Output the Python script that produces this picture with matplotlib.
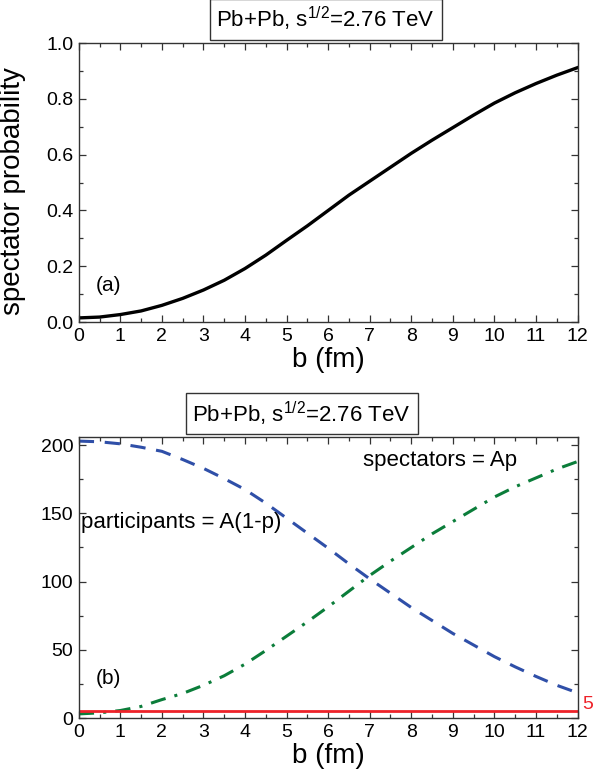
import numpy as np
import matplotlib
matplotlib.use("Agg")
import matplotlib.pyplot as plt
from matplotlib.ticker import MultipleLocator

plt.rcParams['font.family'] = ['Liberation Sans', 'DejaVu Sans']
plt.rcParams['mathtext.fontset'] = 'custom'
plt.rcParams['mathtext.rm'] = 'Liberation Sans'

# impact parameter grid (fm)
b = [0, 0.5, 1, 1.5, 2, 2.5, 3, 3.5, 4, 4.5, 5, 5.5, 6,
     6.5, 7, 7.5, 8, 8.5, 9, 9.5, 10, 10.5, 11, 11.5, 12]

# spectator probability p(b)
p_spec = [0.015, 0.018, 0.027, 0.040, 0.060, 0.085, 0.115, 0.150, 0.192,
          0.240, 0.293, 0.345, 0.400, 0.455, 0.505, 0.555, 0.605, 0.652,
          0.697, 0.742, 0.785, 0.822, 0.855, 0.885, 0.912]

# number of participants and spectators
participants = [203, 202.5, 201, 198.5, 195.5, 189.5, 183, 175.5, 167.5,
                157.5, 146.5, 135.5, 124.5, 113, 102, 91.5, 81, 71.5,
                62, 53.5, 45, 37.5, 30.5, 24, 18.5]
spectators = [3, 3.8, 5.5, 8.5, 13.5, 18, 24, 31, 39.5, 49.5, 60, 70.5,
              81.5, 93, 104.5, 115, 125, 135, 144, 153, 162, 169.5,
              176, 182.5, 188]
n_cut = 5

fig = plt.figure(figsize=(6.06, 7.78), dpi=100)
ax1 = fig.add_axes([0.130, 0.586, 0.823, 0.3586])
ax2 = fig.add_axes([0.130, 0.0771, 0.823, 0.3612])


def style(ax):
    ax.set_xlim(0, 12)
    ax.xaxis.set_major_locator(MultipleLocator(1))
    ax.xaxis.set_minor_locator(MultipleLocator(0.5))
    ax.tick_params(which='both', direction='in', top=True, right=True,
                   labelsize=14, color='#333333', pad=4)
    ax.tick_params(which='major', length=5, width=0.9)
    ax.tick_params(which='minor', length=3, width=0.9)
    for s in ax.spines.values():
        s.set_color('#333333')
        s.set_linewidth(1.0)
    ax.set_xlabel('b (fm)', fontsize=20, labelpad=2)


box = dict(boxstyle='square,pad=0.3', fc='white', ec='#333333', lw=1)

# (a) spectator probability
ax1.plot(b, p_spec, color='black', lw=2.4)
style(ax1)
ax1.set_ylim(0, 1.0)
ax1.yaxis.set_major_locator(MultipleLocator(0.2))
ax1.yaxis.set_minor_locator(MultipleLocator(0.1))
ax1.yaxis.set_major_formatter(matplotlib.ticker.FormatStrFormatter('%.1f'))
ax1.set_ylabel('spectator probability', fontsize=20)
ax1.yaxis.set_label_coords(-0.105, 0.47)
ax1.text(0.42, 0.13, '(a)', fontsize=15, va='center')
ax1.text(0.495, 1.085, r'Pb+Pb, s$^{1/2}$=2.76 TeV', transform=ax1.transAxes,
         ha='center', va='center', fontsize=16, bbox=box)

# (b) participants and spectators
ax2.plot(b, participants, color='#2f4fa8', lw=2.2, ls=(0, (5, 3.5)))
ax2.plot(b, spectators, color='#0b7d3a', lw=2.2, ls=(0, (5, 3, 1, 3)))
ax2.axhline(n_cut, color='#ee2229', lw=2.0)
style(ax2)
ax2.set_ylim(0, 206)
ax2.yaxis.set_major_locator(MultipleLocator(50))
ax2.yaxis.set_minor_locator(MultipleLocator(25))
ax2.text(0.05, 143, 'participants = A(1-p)', fontsize=16, va='center')
ax2.text(6.85, 189, 'spectators = Ap', fontsize=16, va='center')
ax2.text(0.42, 29, '(b)', fontsize=15, va='center')
ax2.text(12.12, n_cut + 5, str(n_cut), color='#ee2229', fontsize=14,
         va='center', ha='left')
ax2.text(0.447, 1.083, r'Pb+Pb, s$^{1/2}$=2.76 TeV', transform=ax2.transAxes,
         ha='center', va='center', fontsize=16, bbox=box)

fig.savefig('out.png', dpi=100)
